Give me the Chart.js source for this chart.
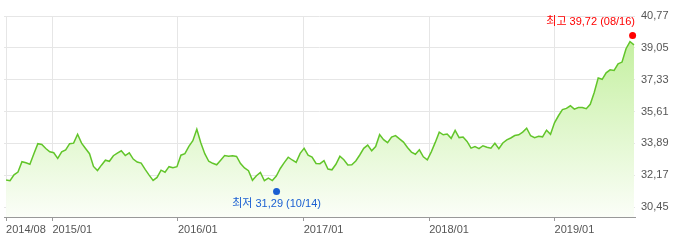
<!DOCTYPE html>
<html>
<head>
<meta charset="utf-8">
<script src="https://cdn.jsdelivr.net/npm/chart.js@4"></script>
<style>
  html, body { margin: 0; padding: 0; background: #fff; }
  #wrap { width: 700px; height: 243px; }
</style>
</head>
<body>
<div id="wrap"><canvas id="chart"></canvas></div>
<script>
// period shown: 2014-08-19 .. 2019-08-20, evenly spaced closing prices
const startDate = "2014-08-19";
const endDate = "2019-08-20";

const prices = [
  31.91, 31.87, 32.19, 32.34, 32.90, 32.84, 32.76, 33.33, 33.87, 33.83,
  33.61, 33.43, 33.38, 33.08, 33.43, 33.54, 33.87, 33.90, 34.38, 33.90,
  33.61, 33.33, 32.64, 32.42, 32.71, 32.98, 32.92, 33.22, 33.36, 33.49,
  33.23, 33.38, 33.04, 32.88, 32.82, 32.48, 32.17, 31.89, 32.05, 32.44,
  32.33, 32.63, 32.57, 32.63, 33.25, 33.33, 33.73, 34.03, 34.65, 33.92,
  33.33, 32.92, 32.81, 32.73, 32.98, 33.23, 33.19, 33.22, 33.18, 32.80,
  32.56, 32.41, 31.89, 32.14, 32.32, 31.87, 32.01, 31.88, 32.12, 32.53,
  32.85, 33.14, 32.99, 32.86, 33.35, 33.62, 33.25, 33.15, 32.80, 32.79,
  32.95, 32.50, 32.46, 32.76, 33.19, 33.00, 32.72, 32.73, 32.94, 33.26,
  33.62, 33.79, 33.49, 33.72, 34.36, 34.09, 33.93, 34.23, 34.31, 34.13,
  33.96, 33.67, 33.42, 33.30, 33.54, 33.16, 33.00, 33.43, 33.94, 34.49,
  34.35, 34.39, 34.16, 34.59, 34.20, 34.23, 33.99, 33.63, 33.71, 33.60,
  33.76, 33.68, 33.63, 33.89, 33.60, 33.91, 34.08, 34.18, 34.31, 34.35,
  34.50, 34.71, 34.30, 34.20, 34.27, 34.24, 34.60, 34.38, 35.00, 35.38,
  35.71, 35.78, 35.92, 35.74, 35.82, 35.82, 35.76, 36.00, 36.64, 37.42,
  37.35, 37.70, 37.86, 37.83, 38.18, 38.28, 39.00, 39.39, 39.21
];

const tickDates = ["2014-08-19", "2015-01-01", "2016-01-01", "2017-01-01", "2018-01-01", "2019-01-01"];
const tickLabels = ["2014/08", "2015/01", "2016/01", "2017/01", "2018/01", "2019/01"];
const yTicks = [30.45, 32.17, 33.89, 35.61, 37.33, 39.05, 40.77];

const highPoint = { date: "2019-08-16", value: 39.72, label: "최고 39,72 (08/16)" };
const lowPoint = { date: "2016-10-14", value: 31.29, label: "최저 31,29 (10/14)" };

const dayOf = d => (Date.parse(d) - Date.parse(startDate)) / 86400000;
const totalDays = dayOf(endDate);
const step = totalDays / (prices.length - 1);

const tickFont = { family: '"Liberation Sans", Arial, sans-serif', size: 11 };

const markerLabels = {
  id: "markerLabels",
  afterDatasetsDraw(chart) {
    const { ctx, chartArea, scales: { x, y } } = chart;
    ctx.save();
    ctx.font = '11px "Liberation Sans", "Noto Sans CJK KR", sans-serif';
    ctx.textBaseline = "middle";
    ctx.fillStyle = "#ff0000";
    ctx.textAlign = "right";
    ctx.fillText(highPoint.label, chartArea.right, y.getPixelForValue(highPoint.value) - 13);
    ctx.fillStyle = "#1a5fd2";
    ctx.textAlign = "center";
    ctx.fillText(lowPoint.label, x.getPixelForValue(dayOf(lowPoint.date)), y.getPixelForValue(lowPoint.value) + 13);
    ctx.restore();
  }
};

new Chart(document.getElementById("chart"), {
  type: "line",
  data: {
    datasets: [
      {
        data: prices.map((v, i) => ({ x: i * step, y: v })),
        borderColor: "#62c52a",
        borderWidth: 1.5,
        pointRadius: 0,
        tension: 0,
        order: 1,
        fill: "start",
        backgroundColor: c => {
          const a = c.chart.chartArea;
          if (!a) return "rgba(0,0,0,0)";
          const g = c.chart.ctx.createLinearGradient(0, a.top, 0, a.bottom);
          g.addColorStop(0, "#bdee94");
          g.addColorStop(1, "#fbfef8");
          return g;
        }
      },
      {
        type: "scatter",
        data: [
          { x: dayOf(highPoint.date), y: highPoint.value },
          { x: dayOf(lowPoint.date), y: lowPoint.value }
        ],
        pointRadius: 3.5,
        pointBorderWidth: 0,
        backgroundColor: ["#ff0000", "#1a5fd2"],
        order: 0,
        clip: false
      }
    ]
  },
  options: {
    responsive: true,
    maintainAspectRatio: false,
    animation: false,
    layout: { padding: { top: 16, left: 0, right: 0, bottom: 0 } },
    plugins: { legend: { display: false }, tooltip: { enabled: false } },
    scales: {
      x: {
        type: "linear",
        min: -6,
        max: totalDays + 3,
        afterBuildTicks: s => { s.ticks = tickDates.map(d => ({ value: dayOf(d) })); },
        afterFit: s => { s.height = 26; },
        grid: { color: "#e6e6e6", tickColor: "#999", tickLength: 4 },
        border: { color: "#999" },
        ticks: {
          align: "start",
          maxRotation: 0,
          autoSkip: false,
          padding: 2,
          color: "#555",
          font: tickFont,
          callback: (v, i) => tickLabels[i]
        }
      },
      y: {
        position: "right",
        min: 29.91,
        max: 40.77,
        afterBuildTicks: s => { s.ticks = yTicks.map(v => ({ value: v })); },
        afterFit: s => { s.width = 65; },
        grid: { color: "#e6e6e6", drawTicks: false },
        border: { display: false },
        ticks: {
          padding: 6,
          color: "#555",
          font: tickFont,
          callback: v => v.toFixed(2).replace(".", ",")
        }
      }
    }
  },
  plugins: [markerLabels]
});
</script>
</body>
</html>
